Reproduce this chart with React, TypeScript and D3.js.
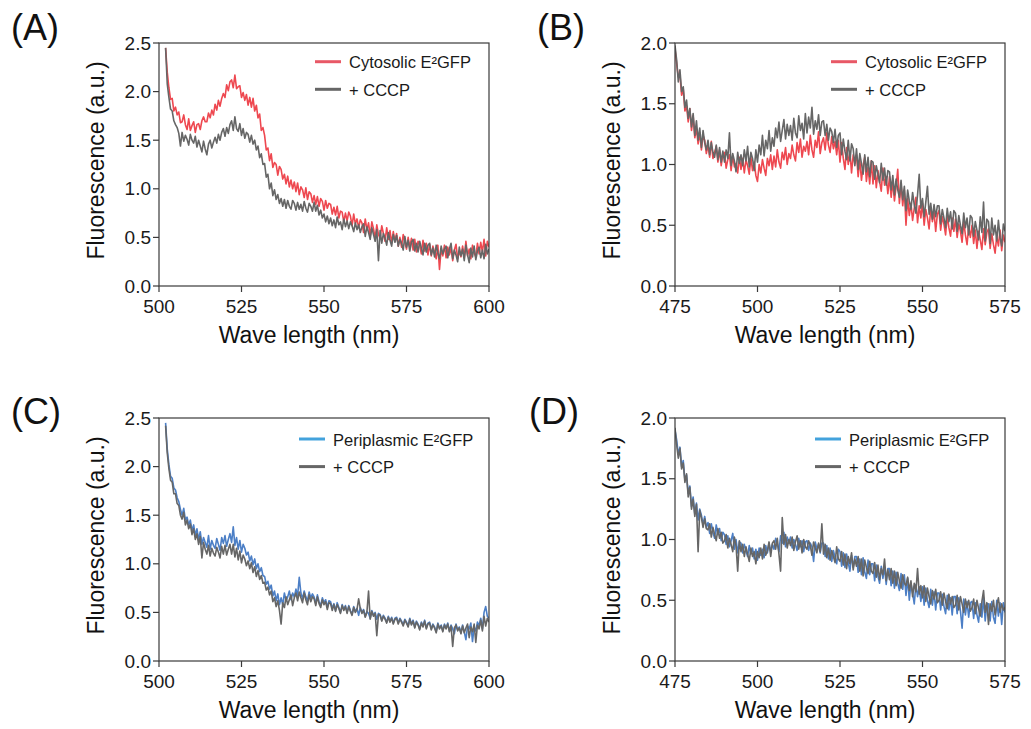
import React from "react";
import * as d3 from "d3";

// ---------- data (fluorescence, a.u.; sampled every 0.5 nm) ----------
const stepNm = 0.5;

// Panel A: cytosolic E2GFP vs + CCCP, 502–600 nm
const startA = 502;
const cytosolicA = [
  2.45,2.20,2.04,1.92,1.93,1.80,1.84,1.76,1.79,1.68,
  1.69,1.76,1.66,1.61,1.72,1.60,1.65,1.69,1.58,1.66,
  1.67,1.61,1.70,1.74,1.69,1.69,1.78,1.73,1.81,1.76,
  1.87,1.81,1.91,1.85,1.93,1.98,1.94,2.07,2.01,2.10,
  2.12,2.04,2.17,2.03,2.05,2.06,1.94,1.99,1.91,1.97,
  1.86,1.94,1.84,1.93,1.80,1.86,1.73,1.77,1.60,1.63,
  1.55,1.40,1.42,1.29,1.36,1.22,1.27,1.25,1.14,1.23,
  1.20,1.10,1.15,1.05,1.13,1.02,1.09,1.00,1.07,0.97,
  1.06,0.94,1.02,0.99,0.91,1.01,0.89,0.97,0.95,0.86,
  0.93,0.84,0.92,0.82,0.90,0.87,0.78,0.88,0.80,0.85,
  0.84,0.74,0.81,0.73,0.82,0.70,0.77,0.76,0.66,0.75,
  0.67,0.76,0.72,0.62,0.74,0.64,0.69,0.60,0.68,0.65,
  0.55,0.69,0.58,0.65,0.51,0.66,0.59,0.49,0.63,0.53,
  0.49,0.62,0.54,0.46,0.60,0.48,0.57,0.44,0.56,0.46,
  0.54,0.41,0.50,0.40,0.53,0.45,0.38,0.50,0.40,0.49,
  0.37,0.48,0.35,0.46,0.42,0.33,0.47,0.36,0.44,0.32,
  0.43,0.31,0.41,0.35,0.28,0.42,0.17,0.38,0.31,0.42,
  0.29,0.40,0.32,0.39,0.26,0.37,0.43,0.28,0.36,0.30,
  0.41,0.29,0.46,0.31,0.38,0.28,0.42,0.34,0.30,0.44,
  0.33,0.45,0.35,0.48,0.31,0.46,0.40,
];
const cccpA = [
  2.45,2.08,1.94,1.82,1.80,1.70,1.66,1.63,1.57,1.44,
  1.58,1.49,1.55,1.51,1.45,1.56,1.50,1.47,1.54,1.43,
  1.50,1.44,1.38,1.49,1.41,1.35,1.46,1.50,1.42,1.48,
  1.53,1.47,1.56,1.50,1.58,1.62,1.54,1.63,1.57,1.66,
  1.70,1.60,1.74,1.62,1.59,1.67,1.55,1.62,1.52,1.58,
  1.56,1.48,1.55,1.46,1.50,1.40,1.44,1.32,1.36,1.25,
  1.26,1.12,1.15,1.00,1.06,0.93,0.99,0.89,0.94,0.85,
  0.90,0.82,0.89,0.80,0.88,0.82,0.79,0.88,0.85,0.78,
  0.86,0.79,0.84,0.77,0.87,0.80,0.76,0.85,0.82,0.77,
  0.86,0.77,0.83,0.73,0.78,0.70,0.74,0.66,0.72,0.64,
  0.70,0.62,0.68,0.60,0.71,0.63,0.66,0.58,0.69,0.61,
  0.67,0.59,0.66,0.62,0.56,0.65,0.58,0.63,0.55,0.61,
  0.64,0.51,0.61,0.55,0.48,0.60,0.53,0.46,0.58,0.26,
  0.57,0.44,0.54,0.49,0.42,0.55,0.47,0.41,0.53,0.45,
  0.52,0.41,0.48,0.44,0.37,0.51,0.40,0.47,0.36,0.45,
  0.48,0.36,0.44,0.35,0.46,0.39,0.32,0.44,0.35,0.42,
  0.44,0.32,0.39,0.30,0.42,0.34,0.28,0.41,0.33,0.38,
  0.41,0.29,0.38,0.44,0.28,0.37,0.32,0.25,0.40,0.31,
  0.38,0.26,0.42,0.32,0.24,0.39,0.30,0.41,0.27,0.36,
  0.40,0.29,0.37,0.28,0.43,0.33,0.38,
];

// Panel B: cytosolic E2GFP vs + CCCP, 475–575 nm
const startB = 475;
const cytosolicB = [
  1.95,1.83,1.72,1.74,1.57,1.62,1.44,1.48,1.35,1.46,
  1.28,1.40,1.22,1.30,1.17,1.26,1.12,1.24,1.20,1.09,
  1.16,1.06,1.19,1.05,1.10,1.15,1.02,1.12,0.99,1.08,
  1.10,0.97,1.04,1.08,0.95,1.07,0.98,1.01,0.93,1.06,
  0.96,1.05,0.93,1.04,0.99,0.92,1.06,0.95,1.02,0.91,
  0.86,1.00,0.93,1.04,0.97,0.91,1.05,0.99,1.08,0.96,
  1.07,0.98,1.12,1.02,0.97,1.10,1.04,1.14,1.00,1.09,
  1.05,1.16,1.08,1.03,1.18,1.10,1.21,1.06,1.15,1.11,
  1.19,1.08,1.24,1.12,1.06,1.20,1.14,1.27,1.09,1.18,
  1.22,1.12,1.26,1.16,1.10,1.23,1.13,1.19,1.08,1.20,
  1.02,1.18,1.05,0.96,1.14,1.00,1.11,0.93,1.08,1.01,
  1.08,0.90,1.04,0.87,0.99,1.06,0.86,0.98,0.84,1.03,
  0.84,0.99,0.81,0.95,0.86,0.78,0.97,0.83,0.90,0.76,
  0.90,0.73,0.86,0.70,0.82,0.96,0.68,0.84,0.66,0.79,
  0.50,0.72,0.58,0.68,0.54,0.64,0.73,0.52,0.66,0.56,
  0.68,0.50,0.63,0.56,0.47,0.64,0.53,0.61,0.45,0.59,
  0.62,0.46,0.57,0.51,0.42,0.58,0.48,0.41,0.56,0.45,
  0.55,0.40,0.51,0.45,0.36,0.53,0.42,0.34,0.49,0.40,
  0.50,0.35,0.46,0.31,0.45,0.38,0.30,0.47,0.34,0.44,
  0.47,0.31,0.43,0.34,0.27,0.41,0.33,0.46,0.29,0.42,
  0.36,
];
const cccpB = [
  1.98,1.86,1.68,1.78,1.60,1.64,1.47,1.53,1.38,1.46,
  1.31,1.42,1.24,1.36,1.20,1.30,1.14,1.28,1.18,1.12,
  1.20,1.08,1.18,1.10,1.06,1.16,1.04,1.14,1.02,1.11,
  1.02,1.12,1.05,1.26,0.99,1.09,1.03,0.94,1.10,1.01,
  1.08,0.99,1.12,1.03,1.15,0.98,1.10,1.05,0.95,1.12,
  1.02,1.16,1.08,1.24,1.07,1.20,1.13,1.28,1.11,1.22,
  1.15,1.30,1.22,1.35,1.19,1.28,1.37,1.21,1.33,1.24,
  1.32,1.20,1.38,1.26,1.22,1.40,1.28,1.34,1.21,1.42,
  1.26,1.39,1.30,1.47,1.25,1.36,1.29,1.41,1.24,1.35,
  1.36,1.24,1.33,1.20,1.30,1.27,1.18,1.29,1.14,1.24,
  1.26,1.08,1.21,1.11,1.04,1.20,1.03,1.17,1.13,0.99,
  1.13,0.96,1.09,1.01,0.92,1.08,0.94,1.06,0.90,1.03,
  1.02,0.88,0.99,0.92,0.85,1.01,0.87,0.97,0.83,0.95,
  0.94,0.79,0.91,0.75,0.88,0.79,0.73,0.87,0.71,0.82,
  0.62,0.79,0.70,0.63,0.77,0.67,0.60,0.75,0.92,0.64,
  0.72,0.57,0.69,0.82,0.59,0.68,0.55,0.67,0.57,0.66,
  0.66,0.51,0.63,0.56,0.48,0.64,0.53,0.61,0.47,0.62,
  0.60,0.45,0.58,0.50,0.43,0.60,0.48,0.56,0.42,0.58,
  0.56,0.41,0.53,0.46,0.38,0.57,0.44,0.69,0.37,0.55,
  0.53,0.35,0.56,0.42,0.50,0.37,0.54,0.40,0.33,0.51,
  0.45,
];

// Panel C: periplasmic E2GFP vs + CCCP, 502–600 nm
const startC = 502;
const periplasmicC = [
  2.45,2.18,2.02,1.90,1.88,1.78,1.76,1.68,1.64,1.56,
  1.50,1.57,1.45,1.48,1.40,1.45,1.34,1.40,1.29,1.36,
  1.25,1.33,1.20,1.27,1.22,1.17,1.29,1.15,1.24,1.19,
  1.16,1.26,1.20,1.14,1.27,1.21,1.29,1.18,1.25,1.31,
  1.22,1.38,1.19,1.27,1.15,1.24,1.12,1.20,1.16,1.09,
  1.12,1.03,1.08,0.99,1.05,0.95,1.00,0.92,0.96,0.88,
  0.87,0.79,0.82,0.74,0.78,0.67,0.72,0.62,0.69,0.58,
  0.65,0.58,0.70,0.62,0.66,0.72,0.63,0.70,0.66,0.74,
  0.67,0.86,0.70,0.64,0.72,0.66,0.62,0.71,0.65,0.69,
  0.66,0.59,0.68,0.61,0.57,0.65,0.60,0.63,0.55,0.62,
  0.61,0.54,0.59,0.52,0.60,0.55,0.50,0.58,0.53,0.57,
  0.50,0.57,0.52,0.48,0.56,0.51,0.54,0.47,0.55,0.50,
  0.53,0.46,0.51,0.49,0.44,0.52,0.47,0.50,0.43,0.49,
  0.48,0.42,0.47,0.44,0.40,0.46,0.41,0.45,0.39,0.44,
  0.45,0.39,0.44,0.41,0.37,0.43,0.40,0.36,0.44,0.38,
  0.42,0.35,0.41,0.38,0.33,0.40,0.36,0.42,0.34,0.39,
  0.40,0.33,0.38,0.35,0.30,0.39,0.34,0.37,0.31,0.38,
  0.34,0.39,0.31,0.37,0.33,0.28,0.38,0.32,0.35,0.29,
  0.37,0.30,0.22,0.36,0.33,0.39,0.20,0.35,0.31,0.40,
  0.36,0.44,0.33,0.50,0.56,0.46,0.44,
];
const cccpC = [
  2.42,2.14,1.98,1.86,1.84,1.72,1.72,1.62,1.60,1.50,
  1.46,1.53,1.40,1.45,1.36,1.41,1.30,1.36,1.25,1.31,
  1.20,1.28,1.06,1.22,1.15,1.10,1.19,1.08,1.16,1.11,
  1.08,1.17,1.12,1.06,1.18,1.10,1.19,1.09,1.15,1.20,
  1.10,1.20,1.07,1.16,1.04,1.13,1.01,1.09,1.05,0.98,
  1.03,0.95,1.01,0.91,0.97,0.87,0.93,0.84,0.88,0.80,
  0.81,0.73,0.76,0.68,0.72,0.61,0.65,0.56,0.62,0.52,
  0.38,0.60,0.55,0.66,0.58,0.63,0.68,0.57,0.65,0.70,
  0.62,0.71,0.65,0.60,0.70,0.63,0.58,0.68,0.61,0.66,
  0.64,0.57,0.66,0.59,0.55,0.63,0.58,0.61,0.53,0.60,
  0.59,0.52,0.58,0.51,0.58,0.54,0.49,0.57,0.52,0.56,
  0.49,0.56,0.51,0.47,0.55,0.50,0.53,0.64,0.54,0.49,
  0.52,0.45,0.50,0.72,0.43,0.51,0.46,0.49,0.26,0.48,
  0.47,0.41,0.46,0.43,0.39,0.45,0.40,0.44,0.38,0.43,
  0.44,0.38,0.43,0.40,0.36,0.42,0.39,0.35,0.43,0.37,
  0.41,0.34,0.40,0.37,0.32,0.39,0.35,0.41,0.33,0.38,
  0.39,0.32,0.37,0.34,0.29,0.38,0.33,0.36,0.30,0.37,
  0.33,0.38,0.30,0.36,0.15,0.34,0.37,0.31,0.34,0.28,
  0.36,0.29,0.34,0.38,0.24,0.35,0.30,0.38,0.19,0.37,
  0.33,0.42,0.31,0.46,0.36,0.44,0.40,
];

// Panel D: periplasmic E2GFP vs + CCCP, 475–575 nm
const startD = 475;
const periplasmicD = [
  1.90,1.82,1.70,1.76,1.60,1.65,1.49,1.53,1.38,1.44,
  1.27,1.35,1.21,1.30,1.16,1.25,1.20,1.12,1.19,1.10,
  1.14,1.05,1.13,1.06,1.01,1.12,1.04,1.09,0.99,1.06,
  1.04,0.96,1.03,0.94,0.99,1.05,0.92,1.00,0.89,0.98,
  0.97,0.89,0.96,0.91,0.86,0.95,0.88,0.93,0.84,0.92,
  0.83,0.93,0.87,0.92,0.85,0.95,0.89,0.97,0.90,0.96,
  0.92,1.01,0.96,0.90,1.03,0.97,1.06,0.94,1.02,0.97,
  1.02,0.93,1.00,0.96,0.91,1.01,0.94,0.99,0.90,0.98,
  0.99,0.91,0.97,0.94,0.82,0.98,0.92,0.96,0.89,0.97,
  0.97,0.86,0.95,0.84,0.93,0.82,0.91,0.85,0.80,0.92,
  0.90,0.78,0.89,0.77,0.88,0.81,0.74,0.87,0.77,0.86,
  0.86,0.73,0.84,0.71,0.85,0.73,0.68,0.83,0.71,0.80,
  0.80,0.66,0.79,0.70,0.64,0.78,0.68,0.77,0.63,0.76,
  0.76,0.62,0.74,0.60,0.73,0.64,0.58,0.72,0.59,0.71,
  0.54,0.68,0.50,0.64,0.56,0.47,0.63,0.53,0.61,0.49,
  0.61,0.46,0.60,0.50,0.44,0.59,0.46,0.57,0.42,0.56,
  0.56,0.42,0.55,0.45,0.39,0.54,0.42,0.52,0.38,0.53,
  0.53,0.39,0.52,0.41,0.27,0.51,0.38,0.49,0.36,0.48,
  0.49,0.35,0.48,0.38,0.32,0.47,0.36,0.52,0.33,0.47,
  0.47,0.33,0.49,0.36,0.31,0.50,0.37,0.48,0.30,0.48,
  0.40,
];
const cccpD = [
  1.92,1.78,1.67,1.75,1.58,1.63,1.47,1.54,1.35,1.43,
  1.25,1.33,1.19,1.29,0.90,1.24,1.18,1.10,1.17,1.09,
  1.08,1.13,1.02,1.10,1.04,0.99,1.09,1.01,1.06,0.97,
  0.99,1.04,0.93,1.01,0.96,0.90,1.02,0.95,0.74,0.99,
  0.90,0.96,0.86,0.94,0.88,0.82,0.93,0.86,0.90,0.80,
  0.90,0.85,0.93,0.84,0.96,0.87,0.91,0.98,0.86,0.97,
  0.99,0.92,1.01,0.88,0.74,1.18,0.96,1.04,0.93,1.00,
  0.95,1.02,0.91,0.98,1.03,0.92,0.99,0.89,1.00,0.94,
  0.92,0.99,0.95,0.87,0.98,0.93,0.89,0.97,0.90,1.13,
  0.88,0.96,0.85,0.93,0.83,0.91,0.86,0.81,0.94,0.84,
  0.82,0.90,0.79,0.88,0.76,0.86,0.80,0.89,0.75,0.84,
  0.78,0.86,0.74,0.84,0.70,0.83,0.77,0.72,0.82,0.74,
  0.72,0.81,0.69,0.79,0.67,0.76,0.71,0.84,0.66,0.75,
  0.67,0.76,0.64,0.74,0.62,0.73,0.66,0.60,0.71,0.64,
  0.62,0.69,0.58,0.66,0.53,0.64,0.57,0.76,0.55,0.62,
  0.52,0.62,0.49,0.60,0.53,0.47,0.58,0.51,0.59,0.48,
  0.50,0.57,0.46,0.56,0.49,0.43,0.55,0.47,0.53,0.44,
  0.46,0.54,0.42,0.53,0.47,0.40,0.51,0.44,0.50,0.41,
  0.44,0.51,0.39,0.50,0.43,0.37,0.49,0.58,0.40,0.48,
  0.30,0.47,0.41,0.50,0.38,0.46,0.52,0.40,0.47,0.42,
  0.44,
];

const xTicksAC = [500, 525, 550, 575, 600];
const xTicksBD = [475, 500, 525, 550, 575];
const yTicksAC = [0, 0.5, 1.0, 1.5, 2.0, 2.5];
const yTicksBD = [0, 0.5, 1.0, 1.5, 2.0];

const labelCytosolic = "Cytosolic E\u00B2GFP";
const labelPeriplasmic = "Periplasmic E\u00B2GFP";
const labelCCCP = "+ CCCP";

// ---------- styling ----------
const FONT = "'Liberation Sans', Arial, Helvetica, sans-serif";
const RED = "#ee4850";
const RED_LEG = "#e85866";
const GREY = "#666666";
const BLUE = "#4c7fc6";
const BLUE_LEG = "#43a2dc";
const AXIS = "#3a3a3a";

type Series = { values: number[]; start: number; color: string };
type Legend = { label: string; color: string };

interface PanelProps {
  letter: string;
  letterX: number;
  letterY: number;
  left: number;
  top: number;
  xDomain: [number, number];
  yDomain: [number, number];
  xTicks: number[];
  yTicks: number[];
  series: Series[];
  legend: Legend[];
  legendDy: number;
  legendDx: number;
  id: string;
}

const PW = 330;
const PH = 243;

function Panel(p: PanelProps) {
  const x = d3.scaleLinear().domain(p.xDomain).range([p.left, p.left + PW]);
  const y = d3.scaleLinear().domain(p.yDomain).range([p.top + PH, p.top]);
  const fmt = d3.format(".1f");
  const clipId = `clip-${p.id}`;
  const lineFor = (s: Series) =>
    d3
      .line<number>()
      .x((_, i) => x(s.start + i * stepNm))
      .y((d) => y(d))(s.values) || "";
  const bottom = p.top + PH;
  const right = p.left + PW;
  const legX = right - p.legendDx;
  return (
    <g>
      <text x={p.letterX} y={p.letterY} fontSize={36} fontFamily={FONT} fill="#111">
        {p.letter}
      </text>
      <defs>
        <clipPath id={clipId}>
          <rect x={p.left} y={p.top - 2} width={PW} height={PH + 2} />
        </clipPath>
      </defs>
      <g clipPath={`url(#${clipId})`}>
        {p.series.map((s, i) => (
          <path
            key={i}
            d={lineFor(s)}
            fill="none"
            stroke={s.color}
            strokeWidth={1.6}
            strokeLinejoin="round"
          />
        ))}
      </g>
      <rect x={p.left} y={p.top} width={PW} height={PH} fill="none" stroke={AXIS} strokeWidth={1.2} />
      {p.yTicks.map((t) => (
        <g key={`y${t}`}>
          <line x1={p.left - 6} x2={p.left} y1={y(t)} y2={y(t)} stroke={AXIS} strokeWidth={1.2} />
          <text
            x={p.left - 8}
            y={y(t)}
            dy="0.35em"
            textAnchor="end"
            fontSize={19}
            fontFamily={FONT}
            fill="#1a1a1a"
          >
            {fmt(t)}
          </text>
        </g>
      ))}
      {p.xTicks.map((t) => (
        <g key={`x${t}`}>
          <line x1={x(t)} x2={x(t)} y1={bottom} y2={bottom + 6} stroke={AXIS} strokeWidth={1.2} />
          <text
            x={x(t)}
            y={bottom + 27}
            textAnchor="middle"
            fontSize={19}
            fontFamily={FONT}
            fill="#1a1a1a"
          >
            {t}
          </text>
        </g>
      ))}
      <text
        x={p.left + PW / 2 - 15}
        y={bottom + 57}
        textAnchor="middle"
        fontSize={23}
        fontFamily={FONT}
        fill="#111"
      >
        Wave length (nm)
      </text>
      <text
        transform={`translate(${p.left - 55},${p.top + PH / 2 - 4}) rotate(-90)`}
        textAnchor="middle"
        fontSize={23}
        fontFamily={FONT}
        fill="#111"
      >
        Fluorescence (a.u.)
      </text>
      {p.legend.map((l, i) => {
        const ly = p.top + p.legendDy + i * 27.6;
        return (
          <g key={l.label}>
            <line x1={legX} x2={legX + 26} y1={ly} y2={ly} stroke={l.color} strokeWidth={3} />
            <text x={legX + 34} y={ly + 6.5} fontSize={16.5} fontFamily={FONT} fill="#1a1a1a">
              {l.label}
            </text>
          </g>
        );
      })}
    </g>
  );
}

export default function App() {
  return (
    <svg
      width={1031}
      height={729}
      viewBox="0 0 1031 729"
      style={{ position: "absolute", left: 0, top: 0, background: "#fff" }}
    >
      <rect x={0} y={0} width={1031} height={729} fill="#fff" />
      <Panel
        id="A"
        letter="(A)"
        letterX={11}
        letterY={40}
        left={159}
        top={43}
        xDomain={[500, 600]}
        yDomain={[0, 2.5]}
        xTicks={xTicksAC}
        yTicks={yTicksAC}
        series={[
          { values: cytosolicA, start: startA, color: RED },
          { values: cccpA, start: startA, color: GREY },
        ]}
        legend={[
          { label: labelCytosolic, color: RED_LEG },
          { label: labelCCCP, color: GREY },
        ]}
        legendDy={18.7}
        legendDx={174}
      />
      <Panel
        id="B"
        letter="(B)"
        letterX={537}
        letterY={40}
        left={675}
        top={43}
        xDomain={[475, 575]}
        yDomain={[0, 2.0]}
        xTicks={xTicksBD}
        yTicks={yTicksBD}
        series={[
          { values: cytosolicB, start: startB, color: RED },
          { values: cccpB, start: startB, color: GREY },
        ]}
        legend={[
          { label: labelCytosolic, color: RED_LEG },
          { label: labelCCCP, color: GREY },
        ]}
        legendDy={18.7}
        legendDx={174}
      />
      <Panel
        id="C"
        letter="(C)"
        letterX={11}
        letterY={424}
        left={159}
        top={418}
        xDomain={[500, 600]}
        yDomain={[0, 2.5]}
        xTicks={xTicksAC}
        yTicks={yTicksAC}
        series={[
          { values: periplasmicC, start: startC, color: BLUE },
          { values: cccpC, start: startC, color: GREY },
        ]}
        legend={[
          { label: labelPeriplasmic, color: BLUE_LEG },
          { label: labelCCCP, color: GREY },
        ]}
        legendDy={21}
        legendDx={190}
      />
      <Panel
        id="D"
        letter="(D)"
        letterX={529}
        letterY={424}
        left={675}
        top={418}
        xDomain={[475, 575]}
        yDomain={[0, 2.0]}
        xTicks={xTicksBD}
        yTicks={yTicksBD}
        series={[
          { values: periplasmicD, start: startD, color: BLUE },
          { values: cccpD, start: startD, color: GREY },
        ]}
        legend={[
          { label: labelPeriplasmic, color: BLUE_LEG },
          { label: labelCCCP, color: GREY },
        ]}
        legendDy={21}
        legendDx={190}
      />
    </svg>
  );
}
